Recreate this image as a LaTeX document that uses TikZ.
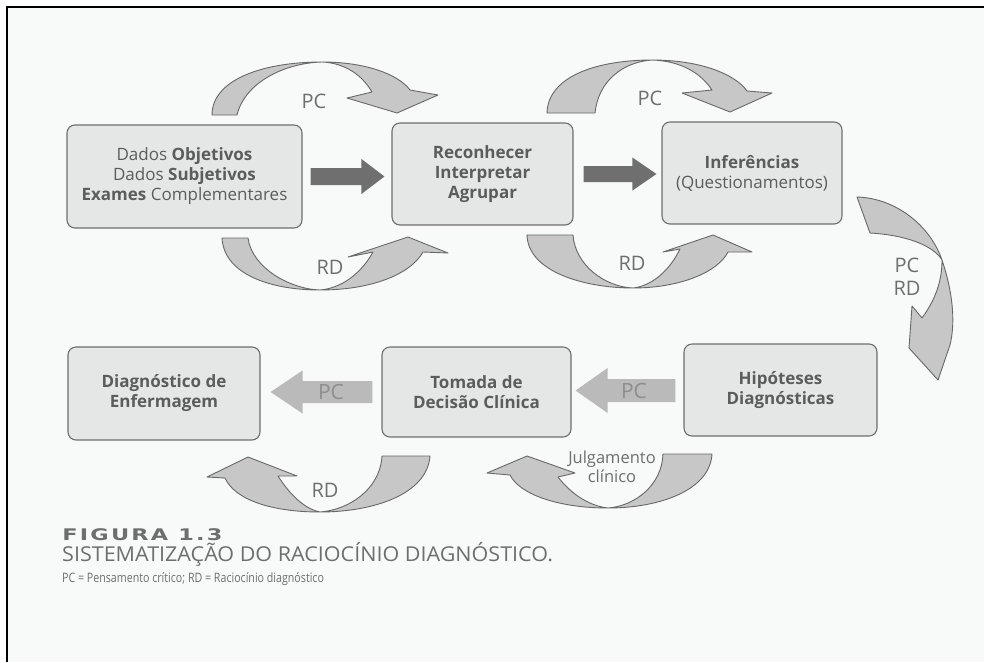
\documentclass[tikz,border=0pt]{standalone}
\usepackage{fontspec}
\setmainfont{Open Sans}
\newfontfamily\capfont{DejaVu Sans}
\usetikzlibrary{calc}

\definecolor{paper}{HTML}{F8F9F9}
\definecolor{boxfill}{HTML}{E5E6E6}
\definecolor{boxline}{HTML}{6E6E6E}
\definecolor{ink}{HTML}{5C5C5C}
\definecolor{labelink}{HTML}{6E6E6E}
\definecolor{darkarrow}{HTML}{6F6F6F}
\definecolor{lightarrow}{HTML}{BABABA}
\definecolor{lightink}{HTML}{8E8E8E}
\definecolor{ribbon}{HTML}{C7C7C7}
\definecolor{ribbonline}{HTML}{686868}

\tikzset{
  stepbox/.style={draw=boxline, fill=boxfill, line width=1.1pt, rounded corners=8pt,
    align=center, text=ink, font=\fontsize{17}{20}\selectfont, inner sep=0pt},
  ribbonarrow/.style={fill=ribbon, draw=ribbonline, line width=0.9pt, line join=round},
  darkblock/.style={fill=darkarrow},
  lightblock/.style={fill=lightarrow},
  lbl/.style={text=labelink, font=\fontsize{20}{23}\selectfont, inner sep=0pt},
  lightlbl/.style={text=lightink, font=\fontsize{21}{24}\selectfont, inner sep=0pt},
}

% horizontal block arrow: style, tail, tip, shaft half-width, head half-width, head length
\newcommand{\blockarrow}[6]{%
  \path[#1] let \p1=(#2), \p2=(#3), \p3=($(#3)!#6pt!(#2)$) in
    (\x1,\y1-#4pt) -- (\x3,\y1-#4pt) -- (\x3,\y1-#5pt) -- (\x2,\y2)
    -- (\x3,\y1+#5pt) -- (\x3,\y1+#4pt) -- (\x1,\y1+#4pt) -- cycle;}

\begin{document}
\begin{tikzpicture}[x=1pt, y=-1pt]
\useasboundingbox (0,0) rectangle (984,662);
\fill[white] (0,0) rectangle (984,662);
\fill[paper] (7,7) rectangle (984,662);
\draw[line width=2.6pt] (984,7) -- (7,7) -- (7,662);

% ---- boxes ----
\node[stepbox, minimum width=235, minimum height=103] (dados) at (184.5,176.5)
  {Dados \textbf{Objetivos}\\Dados \textbf{Subjetivos}\\\textbf{Exames} Complementares};
\node[stepbox, minimum width=181, minimum height=102] (recon) at (482.5,174)
  {\textbf{Reconhecer}\\\textbf{Interpretar}\\\textbf{Agrupar}};
\node[stepbox, minimum width=180, minimum height=102] (infer) at (752,173)
  {\textbf{Inferências}\\(Questionamentos)};
\node[stepbox, minimum width=193, minimum height=92] (hipot) at (780.5,390)
  {\textbf{Hipóteses}\\\textbf{Diagnósticas}};
\node[stepbox, minimum width=189, minimum height=90] (tomada) at (476.5,392)
  {\textbf{Tomada de}\\\textbf{Decisão Clínica}};
\node[stepbox, minimum width=192, minimum height=93] (diag) at (164,393.5)
  {\textbf{Diagnóstico de}\\\textbf{Enfermagem}};

% ---- straight block arrows ----
\coordinate (a1s) at ($(dados.east |- 0,176.5)+(8,0)$);
\coordinate (a1e) at ($(recon.west |- 0,176.5)+(-7,0)$);
\blockarrow{darkblock}{a1s}{a1e}{8.5}{17.5}{23}
\coordinate (a2s) at ($(recon.east |- 0,174)+(10,0)$);
\coordinate (a2e) at ($(infer.west |- 0,174)+(-5,0)$);
\blockarrow{darkblock}{a2s}{a2e}{8}{16.5}{24}

\coordinate (a3s) at ($(hipot.west |- 0,390.5)+(-8,0)$);
\coordinate (a3e) at ($(tomada.east |- 0,390.5)+(4,0)$);
\blockarrow{lightblock}{a3s}{a3e}{11.5}{22.5}{32}
\node[lightlbl] (pc3) at (634,391) {PC};
\coordinate (a4s) at ($(tomada.west |- 0,392)+(-9,0)$);
\coordinate (a4e) at ($(diag.east |- 0,392)+(10,0)$);
\blockarrow{lightblock}{a4s}{a4e}{11}{21.5}{32}
\node[lightlbl] (pc4) at (331,392) {PC};

% ---- curved ribbon arrows, upper row ----
\draw[ribbonarrow] (212,115) .. controls (212,80) and (262,62) .. (322,62)
  .. controls (365,62) and (398,74) .. (410,90)
  -- (438,95) -- (397,113) -- (347,98) -- (372,92)
  .. controls (362,75) and (345,63) .. (322,62)
  .. controls (285,63) and (245,82) .. (237,115) -- cycle;
\node[lbl] (pc1) at (314,101) {PC};

\draw[ribbonarrow] (547,113) .. controls (548,75) and (600,60) .. (652,60)
  .. controls (700,60) and (735,74) .. (747,91)
  -- (772,93) -- (730,112) -- (682,93) -- (712,90)
  .. controls (700,72) and (680,61) .. (652,60)
  .. controls (622,62) and (598,82) .. (595,113) -- cycle;
\node[lbl] (pc2) at (650,98) {PC};

\draw[ribbonarrow] (222,238) .. controls (224,275) and (272,290) .. (320,290)
  .. controls (370,290) and (410,275) .. (423,252)
  -- (448,253) -- (408,237) -- (348,257) -- (373,252)
  .. controls (362,272) and (343,288) .. (320,290)
  .. controls (290,289) and (252,268) .. (248,238) -- cycle;
\node[lbl] (rd1) at (330,267) {RD};

\draw[ribbonarrow] (527,235) .. controls (528,272) and (585,288) .. (633,288)
  .. controls (680,288) and (718,272) .. (728,252)
  -- (752,252) -- (713,235) -- (663,252) -- (680,249)
  .. controls (670,270) and (652,286) .. (633,288)
  .. controls (605,287) and (575,265) .. (573,235) -- cycle;
\node[lbl] (rd2) at (632,263) {RD};

% ---- right-hand ribbon ----
\draw[ribbonarrow] (857,197) .. controls (895,198) and (930,225) .. (942,260)
  .. controls (952,290) and (956,320) .. (950,345)
  -- (938,380) -- (909,348) -- (912,306) -- (922,318)
  .. controls (935,300) and (942,282) .. (942,260)
  .. controls (933,245) and (905,235) .. (870,233) -- cycle;
\node[lbl, align=center, font=\fontsize{20}{23}\selectfont] (pcrd) at (907,277) {PC\\RD};

% ---- curved ribbon arrows, lower row ----
\draw[ribbonarrow] (430,456) .. controls (427,495) and (372,512) .. (320,512)
  .. controls (272,512) and (235,500) .. (225,478)
  -- (207,477) -- (248,457) -- (297,476) -- (278,476)
  .. controls (290,495) and (305,509) .. (320,512)
  .. controls (348,510) and (380,490) .. (382,456) -- cycle;
\node[lbl] (rd3) at (325,490) {RD};

\draw[ribbonarrow] (712,454) .. controls (710,490) and (660,508) .. (608,508)
  .. controls (560,508) and (520,495) .. (510,475)
  -- (487,473) -- (527,456) -- (575,473) -- (558,477)
  .. controls (572,495) and (590,506) .. (608,508)
  .. controls (635,506) and (662,485) .. (663,454) -- cycle;
\node[lbl, align=center, font=\fontsize{16.5}{19}\selectfont] (julg) at (612,467) {Julgamento\\clínico};

% ---- caption ----
\node[anchor=base west, inner sep=0pt, text=labelink, xscale=1.4,
  font=\capfont\bfseries\fontsize{16}{18}\selectfont\addfontfeature{LetterSpace=10}] (fig) at (62,540) {FIGURA 1.3};
\node[anchor=base west, inner sep=0pt, text=labelink, xscale=1.05, font=\fontsize{20.5}{24}\selectfont] (title) at (62,561)
  {SISTEMATIZAÇÃO DO RACIOCÍNIO DIAGNÓSTICO.};
\node[anchor=base west, inner sep=0pt, text=labelink, xscale=0.82, font=\fontsize{13}{16}\selectfont] (legend) at (62,582)
  {PC = Pensamento crítico; RD = Raciocínio diagnóstico};
\end{tikzpicture}
\end{document}
